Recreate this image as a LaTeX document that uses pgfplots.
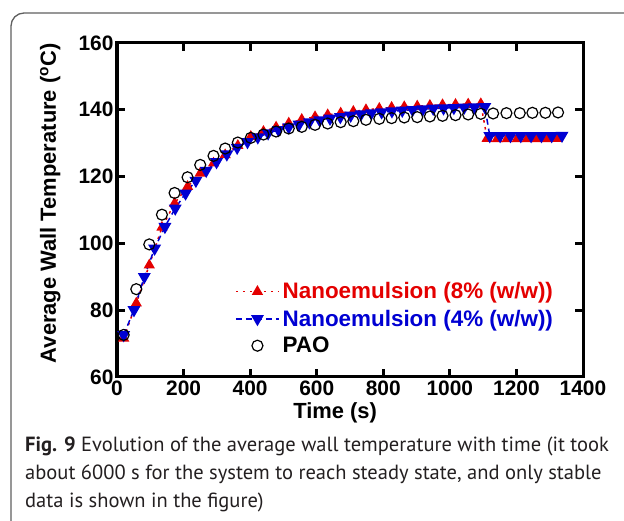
\documentclass[border=0pt]{standalone}
\usepackage{pgfplots}
\pgfplotsset{compat=1.18}
\usepackage{fontspec}
\setmainfont{Liberation Sans}
\newfontfamily\capfont{PT Sans}
\definecolor{myred}{RGB}{228,0,0}
\definecolor{myblue}{RGB}{0,0,210}
\definecolor{bordergray}{RGB}{95,95,95}
\definecolor{captext}{RGB}{35,31,32}
\begin{document}
\begin{tikzpicture}
\path[use as bounding box] (0,0) rectangle (624bp,521bp);
\draw[bordergray, line width=1.3bp, rounded corners=13bp] (11bp,-5bp) -- (11bp,508bp) -- (630bp,508bp);
\begin{axis}[
 at={(117bp,144bp)}, anchor=south west,
 scale only axis, width=466bp, height=334bp,
 xmin=0, xmax=1400, ymin=60, ymax=160,
 xtick={0,200,...,1400}, ytick={60,80,...,160},
 tick align=inside, major tick length=8bp,
 axis line style={line width=3bp},
 every tick/.style={black, line width=3bp},
 tick label style={font=\fontsize{21}{21}\selectfont\bfseries},
 /pgf/number format/assume math mode=true,
 /pgf/number format/1000 sep={},
 xlabel={Time (s)}, ylabel={Average Wall Temperature (\textsuperscript{o}C)},
 label style={font=\fontsize{22}{22}\selectfont\bfseries},
 xlabel style={at={(axis description cs:0.468,-0.107)}, anchor=center},
 ylabel style={at={(axis description cs:-0.143,0.52)}, anchor=center},
 legend style={draw=none, fill=none, at={(axis description cs:0.2468,0.292)}, anchor=north west, font=\fontsize{22.5}{22.5}\selectfont\bfseries, row sep=7.5bp, nodes={inner sep=1bp}, column sep=2bp},
 legend cell align=left,
 legend image code/.code={\draw[mark repeat=2,mark phase=2,#1] plot coordinates {(-2bp,0bp)(19.5bp,0bp)(41bp,0bp)};},
]
\addplot[myred, line width=1.5bp, dash pattern=on 2.5bp off 4.5bp, mark=triangle*, mark size=5bp, mark options={solid, fill=myred}] coordinates {
(20,71.6) (58,82.1) (97,93.5) (135,104.8) (173,112.0) (212,117.0) (250,121.0) (290,124.0) (325,126.5) (363,129.3)
(402,132.0) (440,133.5) (478,134.8) (516,136.0) (555,137.1) (595,137.9) (633,138.5) (672,139.0) (710,139.5) (748,140.0)
(788,140.4) (825,140.7) (863,140.9) (902,141.1) (940,141.3) (978,141.5) (1017,141.6) (1055,141.7) (1093,141.8)
(1112,131.4) (1142,131.3) (1172,131.3) (1202,131.3) (1232,131.3) (1262,131.3) (1292,131.3) (1322,131.4)
};
\addlegendentry{\textcolor{myred}{Nanoemulsion (8\% (w/w))}}
\addplot[myblue, line width=1.5bp, dash pattern=on 6bp off 4bp, mark=triangle*, mark size=6bp, mark options={solid, fill=myblue, rotate=180}] coordinates {
(20,72.6) (51,80.1) (82,90.0) (113,98.5) (144,105.0) (175,110.5) (206,115.0) (237,118.8) (268,121.8) (299,124.4)
(330,126.7) (361,128.7) (392,130.4) (423,131.8) (454,133.0) (485,134.0) (516,134.8) (547,135.6) (578,136.3) (609,136.9)
(640,137.4) (671,137.9) (702,138.3) (733,138.7) (764,139.0) (795,139.3) (826,139.6) (857,139.8) (888,140.0) (919,140.2)
(950,140.4) (981,140.5) (1012,140.6) (1043,140.7) (1074,140.8) (1105,140.9)
(1120,132.2) (1151,132.2) (1182,132.2) (1213,132.2) (1244,132.2) (1275,132.2) (1306,132.2) (1337,132.3)
};
\addlegendentry{\textcolor{myblue}{Nanoemulsion (4\% (w/w))}}
\addplot[only marks, black, mark=o, mark size=5.5bp, line width=1.2bp] coordinates {
(20,72.6) (58,86.3) (97,99.7) (135,108.6) (173,115.1) (212,119.8) (250,123.5) (290,126.2) (325,128.4) (363,130.2)
(402,131.6) (440,132.6) (478,133.5) (516,134.4) (555,134.9) (595,135.5) (633,135.9) (672,136.3) (710,136.6) (748,137.0)
(788,137.3) (825,137.5) (863,137.7) (902,137.8) (940,138.0) (978,138.2) (1017,138.4) (1055,138.6) (1093,138.8) (1130,138.9)
(1170,139.0) (1210,139.0) (1248,139.1) (1287,139.1) (1325,139.2)
};
\addlegendentry{PAO}
\end{axis}
\node[anchor=base west, inner sep=0pt, font=\capfont\fontsize{20.6}{20.6}\selectfont, text=captext] at (25bp,69bp) {{\bfseries Fig. 9} Evolution of the average wall temperature with time (it took};
\node[anchor=base west, inner sep=0pt, font=\capfont\fontsize{20.6}{20.6}\selectfont, text=captext] at (25bp,41bp) {about 6000 s for the system to reach steady state, and only stable};
\node[anchor=base west, inner sep=0pt, font=\capfont\fontsize{20.6}{20.6}\selectfont, text=captext] at (25bp,14bp) {data is shown in the figure)};
\end{tikzpicture}
\end{document}
